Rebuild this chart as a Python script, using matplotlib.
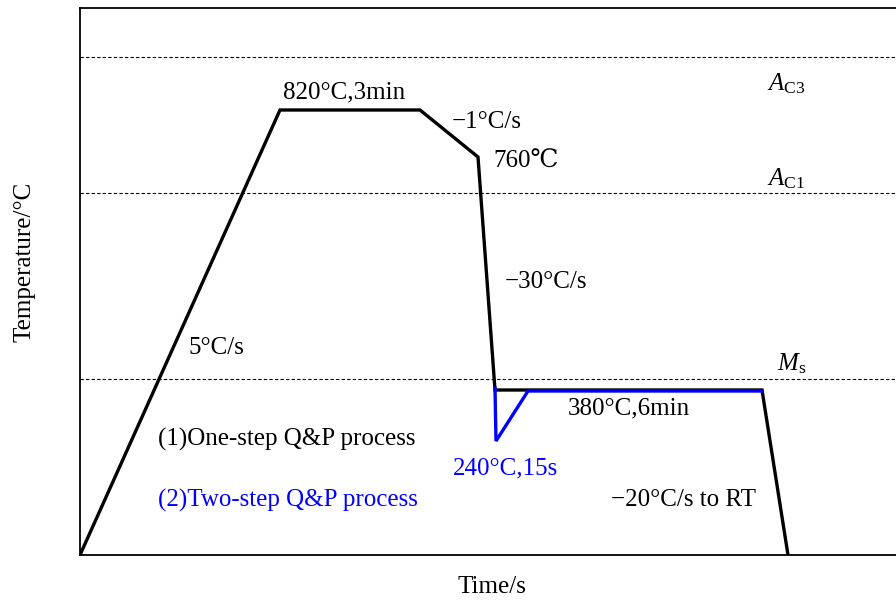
import matplotlib.pyplot as plt

plt.rcParams['font.family'] = ['Liberation Serif', 'DejaVu Serif']
plt.rcParams['mathtext.fontset'] = 'custom'
plt.rcParams['mathtext.rm'] = 'Liberation Serif'
plt.rcParams['mathtext.it'] = 'Liberation Serif:italic'

# schematic units (time / temperature, arbitrary)
one_step_t = [0, 200, 340, 398, 415, 682, 708]
one_step_T = [0, 445, 445, 398, 165, 165, 0]

two_step_t = [415, 416, 448, 682]
two_step_T = [167, 114, 164, 164]

crit_names = ["$A_{\\rm C3}$", "$A_{\\rm C1}$", "$M_{\\rm s}$"]
crit_T = [498, 362, 176]
crit_label_t = [687, 687, 697]
crit_label_T = [471, 376, 191]

fig = plt.figure(figsize=(8.96, 6), dpi=100)
ax = fig.add_axes([80 / 896, 45 / 600, 816 / 896, 547 / 600])
ax.set_xlim(0, 816)
ax.set_ylim(0, 547)

for T in crit_T:
    ax.axhline(T, color='black', lw=0.8, ls=(0, (3, 2)))

ax.plot(one_step_t, one_step_T, color='black', lw=2.4, solid_joinstyle='miter')
ax.plot(two_step_t, two_step_T, color='blue', lw=2.4, solid_joinstyle='miter')

for name, x, y in zip(crit_names, crit_label_t, crit_label_T):
    ax.text(x, y, name, fontsize=18, va='center', ha='left')

fs = 18
ax.text(264, 463, "820°C,3min", fontsize=fs, ha='center', va='center')
ax.text(372, 433, "\u22121°C/s", fontsize=fs, ha='left', va='center')
ax.text(413, 393, "760\u2103", fontsize=fs, ha='left', va='center')
ax.text(425, 273, "\u221230°C/s", fontsize=fs, ha='left', va='center')
ax.text(108, 207, "5°C/s", fontsize=fs, ha='left', va='center')
ax.text(78, 116, "(1)One-step Q&P process", fontsize=fs, ha='left', va='center')
ax.text(78, 55, "(2)Two-step Q&P process", fontsize=fs, ha='left', va='center', color='blue')
ax.text(373, 87, "240°C,15s", fontsize=fs, ha='left', va='center', color='blue')
ax.text(488, 147, "380°C,6min", fontsize=fs, ha='left', va='center')
ax.text(531, 55, "\u221220°C/s to RT", fontsize=fs, ha='left', va='center')

ax.set_xticks([])
ax.set_yticks([])
ax.spines['right'].set_visible(False)
for s in ['left', 'top', 'bottom']:
    ax.spines[s].set_linewidth(1.3)

# axis titles placed in figure pixels
fig.text(492 / 896, 1 - 587 / 600, "Time/s", fontsize=fs, ha='center', va='center')
fig.text(25 / 896, 1 - 262 / 600, "Temperature/°C", fontsize=fs, ha='center',
         va='center', rotation=90)

fig.savefig("out.png", dpi=100)
